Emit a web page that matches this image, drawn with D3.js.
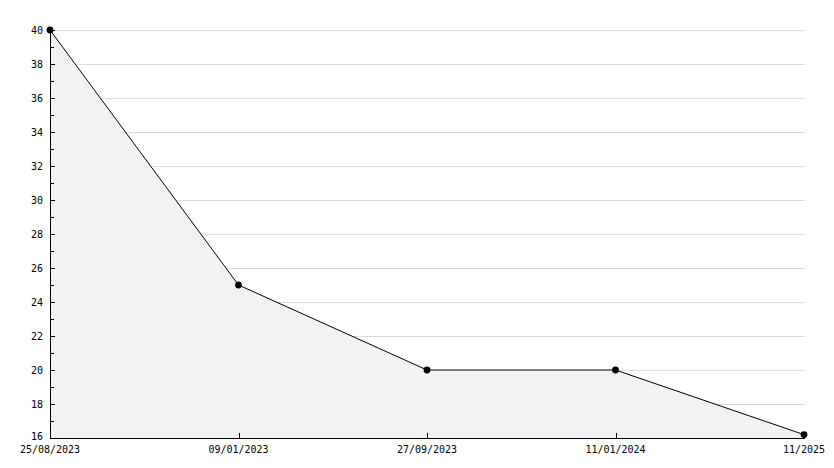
<!DOCTYPE html>
<html>
<head>
<meta charset="utf-8">
<script src="https://cdn.jsdelivr.net/npm/d3@7"></script>
<style>
  body { margin: 0; background: #fff; }
  svg { display: block; }
  text { font-family: "DejaVu Sans Mono", monospace; font-size: 10px; fill: #000; }
</style>
</head>
<body>
<div id="chart"></div>
<script>
(function(){
    "use strict";
    // data
    var dates = ["25/08/2023", "09/01/2023", "27/09/2023", "11/01/2024", "11/2025"];
    var values = [40, 25, 20, 20, 16.2];
    var yTicks = d3.range(16, 41, 1);
    var yLabels = d3.range(16, 41, 2);

    var width = 834, height = 468;
    var left = 50, right = 805, top = 30, bottom = 438;

    var svg = d3.select("#chart").append("svg")
        .attr("width", width)
        .attr("height", height);

    var x = d3.scalePoint().domain(dates).range([left, 804]);
    var y = d3.scaleLinear().domain([16, 40]).range([bottom, top]);

    var pts = dates.map(function(d, i){ return {d: d, v: values[i]}; });

    //grid lines
    svg.append("g").selectAll("line")
        .data(yLabels.slice(1))
        .enter().append("line")
        .attr("x1", left).attr("x2", right)
        .attr("y1", function(d){ return y(d) + 0.5; })
        .attr("y2", function(d){ return y(d) + 0.5; })
        .attr("stroke", "#dcdcdc");

    //area under the line
    var area = d3.area()
        .x(function(d){ return x(d.d); })
        .y0(bottom)
        .y1(function(d){ return y(d.v); });
    svg.append("path").datum(pts)
        .attr("d", area)
        .attr("fill", "#f2f2f2");

    //y axis ticks, pointing inward
    svg.append("g").selectAll("line")
        .data(yTicks)
        .enter().append("line")
        .attr("x1", left)
        .attr("x2", function(d){ return d % 2 === 0 ? left + 5 : left + 4; })
        .attr("y1", function(d){ return y(d) + 0.5; })
        .attr("y2", function(d){ return y(d) + 0.5; })
        .attr("stroke", "#000");

    svg.append("g").selectAll("text")
        .data(yLabels)
        .enter().append("text")
        .attr("x", left - 7)
        .attr("y", function(d){ return d === 16 ? y(d) - 2 : y(d) + 0.5; })
        .attr("dy", "0.35em")
        .attr("text-anchor", "end")
        .text(function(d){ return d; });

    //x axis ticks
    svg.append("g").selectAll("line")
        .data(dates.slice(1, 4))
        .enter().append("line")
        .attr("x1", function(d){ return Math.round(x(d)) + 0.5; })
        .attr("x2", function(d){ return Math.round(x(d)) + 0.5; })
        .attr("y1", bottom)
        .attr("y2", bottom - 5)
        .attr("stroke", "#000");

    svg.append("g").selectAll("text")
        .data(dates)
        .enter().append("text")
        .attr("x", function(d){ return x(d); })
        .attr("y", bottom + 11)
        .attr("dy", "0.35em")
        .attr("text-anchor", "middle")
        .text(function(d){ return d; });

    //axis lines
    svg.append("line")
        .attr("x1", left + 0.5).attr("x2", left + 0.5)
        .attr("y1", top).attr("y2", bottom + 0.5)
        .attr("stroke", "#000");
    svg.append("line")
        .attr("x1", left).attr("x2", right)
        .attr("y1", bottom + 0.5).attr("y2", bottom + 0.5)
        .attr("stroke", "#000");

    //line and markers
    var line = d3.line()
        .x(function(d){ return x(d.d); })
        .y(function(d){ return y(d.v); });
    svg.append("path").datum(pts)
        .attr("d", line)
        .attr("fill", "none")
        .attr("stroke", "#000")
        .attr("stroke-width", 1);

    svg.append("g").selectAll("path")
        .data(pts)
        .enter().append("path")
        .attr("transform", function(d){ return "translate(" + x(d.d) + "," + y(d.v) + ")"; })
        .attr("d", d3.symbol().type(d3.symbolCircle).size(36))
        .attr("fill", "#000");
})();
</script>
</body>
</html>
